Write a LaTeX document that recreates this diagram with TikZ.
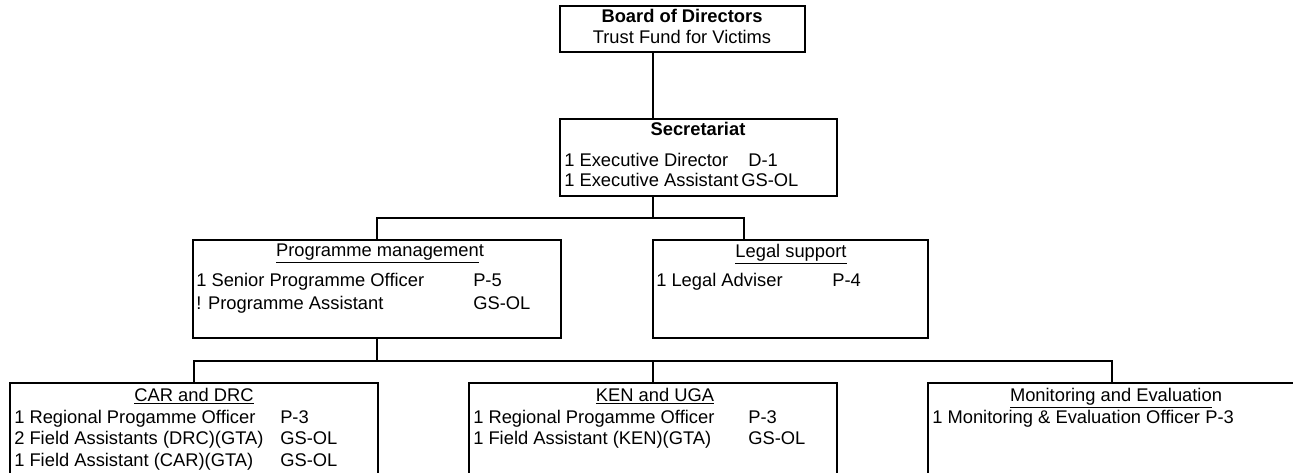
\documentclass[tikz,border=0pt]{standalone}
\usepackage{fontspec}
\setmainfont{Liberation Sans}
\usetikzlibrary{fit}
\begin{document}
\begin{tikzpicture}[x=0.75pt,y=-0.75pt,
  box/.style={draw, line width=2pt, inner sep=0pt, fit={#1}},
  conn/.style={line width=2pt},
  txt/.style={anchor=mid west, inner sep=0pt, font=\fontsize{13.75}{16}\selectfont},
  ctxt/.style={anchor=mid, inner sep=0pt, font=\fontsize{13.75}{16}\selectfont}]
\useasboundingbox (0,0) rectangle (1293,473);
\clip (0,0) rectangle (1293,473);
\fill[white] (0,0) rectangle (1293,473);
% boxes
\node[box={(560,6) (805,52)}] (board) {};
\node[box={(560,119) (837,196)}] (sec) {};
\node[box={(193,240) (561,338)}] (prog) {};
\node[box={(653,240) (928,338)}] (legal) {};
\node[box={(10,383) (378,500)}] (car) {};
\node[box={(469,383) (837,500)}] (ken) {};
\node[box={(928,383) (1320,500)}] (me) {};
% texts
\node[ctxt] (t1) at (682,19) {\bfseries Board of Directors};
\node[ctxt] (t2) at (682,40) {Trust Fund for Victims};
\node[ctxt] (t3) at (698,132) {\bfseries Secretariat};
\node[txt] (t4) at (564,163) {1 Executive Director};
\node[txt] (t5) at (748,163) {D-1};
\node[txt] (t6) at (564,183) {1 Executive Assistant};
\node[txt] (t7) at (741,183) {GS-OL};
\node[ctxt] (t8) at (380,253) {\underline{Programme managemen}t};
\node[txt] (t9) at (196,283) {1 Senior Programme Officer};
\node[txt] (t10) at (473,283) {P-5};
\node[txt] (t11) at (196,306) {! Programme Assistant};
\node[txt] (t12) at (473,306) {GS-OL};
\node[ctxt] (t13) at (791,254) {\underline{Legal support}};
\node[txt] (t14) at (656,283) {1 Legal Adviser};
\node[txt] (t15) at (832,283) {P-4};
\node[ctxt] (t16) at (194,398) {\underline{CAR and DRC}};
\node[txt] (t17) at (14,420) {1 Regional Progamme Officer};
\node[txt] (t18) at (280,420) {P-3};
\node[txt] (t19) at (14,441) {2 Field Assistants (DRC)(GTA)};
\node[txt] (t20) at (280,441) {GS-OL};
\node[txt] (t21) at (14,463) {1 Field Assistant (CAR)(GTA)};
\node[txt] (t22) at (280,463) {GS-OL};
\node[ctxt] (t23) at (655,398) {\underline{KEN and UGA}};
\node[txt] (t24) at (473,420) {1 Regional Progamme Officer};
\node[txt] (t25) at (748,420) {P-3};
\node[txt] (t26) at (473,441) {1 Field Assistant (KEN)(GTA)};
\node[txt] (t27) at (748,441) {GS-OL};
\node[ctxt] (t28) at (1116,398) {\underline{Monitoring and Evaluatio}n};
\node[txt] (t29) at (932,420) {1 Monitoring \& Evaluation Officer};
\node[txt] (t30) at (1205,420) {P-3};
% connectors
\coordinate (j0) at (653,100);
\draw[conn] (board.south -| j0) -- (sec.north -| j0);
\coordinate (j1) at (653,218);
\coordinate (b1) at (377,218);
\coordinate (b2) at (744,218);
\draw[conn] (sec.south -| j1) -- (j1);
\draw[conn] (prog.north) -- (b1) -- (b2) -- (legal.north -| b2);
\coordinate (c1) at (194,361);
\coordinate (c2) at (1112,361);
\draw[conn] (prog.south) -- (prog.south |- c1);
\draw[conn] (car.north) -- (c1) -- (c2) -- (me.north -| c2);
\draw[conn] (ken.north) -- (ken.north |- c1);
\end{tikzpicture}
\end{document}
